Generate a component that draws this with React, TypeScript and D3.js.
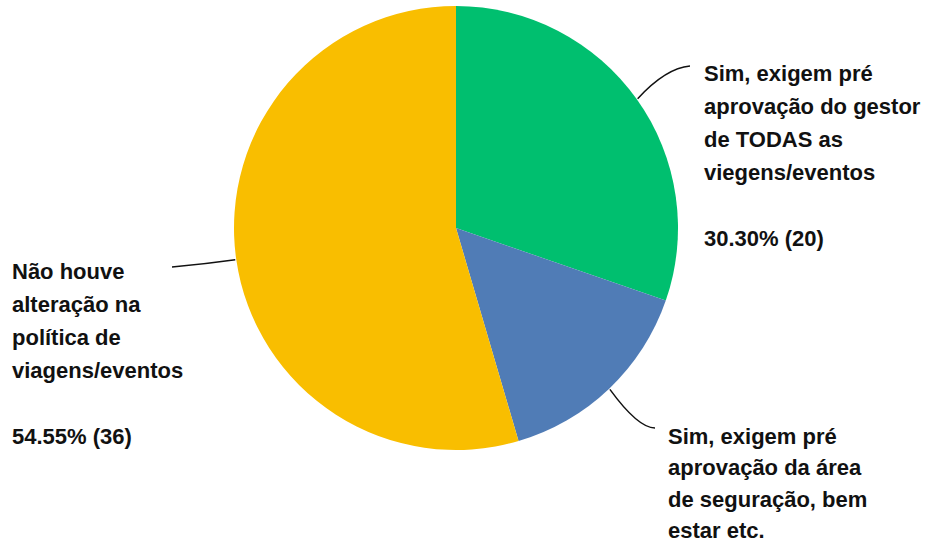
import * as d3 from "d3";

const labels = [
  "Sim, exigem pré aprovação do gestor de TODAS as viegens/eventos",
  "Sim, exigem pré aprovação da área de seguração, bem estar etc.",
  "Não houve alteração na política de viagens/eventos",
];
const counts = [20, 10, 36];
const percents = ["30.30%", "15.15%", "54.55%"];
const colors = ["#00BF6F", "#507CB6", "#F9BE00"];

// wrapped label lines, as in the picture
const lines = [
  ["Sim, exigem pré", "aprovação do gestor", "de TODAS as", "viegens/eventos", "", "30.30% (20)"],
  ["Sim, exigem pré", "aprovação da área", "de seguração, bem", "estar etc."],
  ["Não houve", "alteração na", "política de", "viagens/eventos", "", "54.55% (36)"],
];

const width = 928;
const height = 543;
const cx = 456;
const cy = 228;
const radius = 222;

// label box positions (left x, first line centre y, line height) and leader end
const boxes = [
  { x: 704, y: 73, lh: 33, end: [690, 66], ctrl: [666, 68] },
  { x: 668, y: 436, lh: 31.5, end: [655, 428], ctrl: [638, 428] },
  { x: 12, y: 271, lh: 33, end: [172, 267], ctrl: [205, 264] },
];

export default function App() {
  const pie = d3.pie<number>().sort(null).value((d) => d);
  const arcs = pie(counts);
  const arc = d3.arc<d3.PieArcDatum<number>>().innerRadius(0).outerRadius(radius);

  return (
    <svg
      width={width}
      height={height}
      style={{ position: "absolute", left: 0, top: 0, fontFamily: "'Liberation Sans', Arial, sans-serif", fontWeight: 700 }}
    >
      <g transform={`translate(${cx},${cy})`}>
        {arcs.map((a, i) => (
          <path key={`slice-${i}`} d={arc(a) || ""} fill={colors[i]} />
        ))}
      </g>
      {arcs.map((a, i) => {
        const mid = (a.startAngle + a.endAngle) / 2;
        const ax = cx + Math.sin(mid) * (radius + 1);
        const ay = cy - Math.cos(mid) * (radius + 1);
        const b = boxes[i];
        return (
          <path
            key={`leader-${i}`}
            d={`M${ax},${ay}Q${b.ctrl[0]},${b.ctrl[1]} ${b.end[0]},${b.end[1]}`}
            fill="none"
            stroke="#111"
            strokeWidth={1.5}
          />
        );
      })}
      {lines.map((ls, i) => (
        <text key={`label-${i}`} fontSize={22} fill="#111" aria-label={`${labels[i]} ${percents[i]} (${counts[i]})`}>
          {ls.map((t, j) => (
            <tspan key={j} x={boxes[i].x} y={boxes[i].y + j * boxes[i].lh} dy="0.35em">
              {t}
            </tspan>
          ))}
        </text>
      ))}
    </svg>
  );
}
